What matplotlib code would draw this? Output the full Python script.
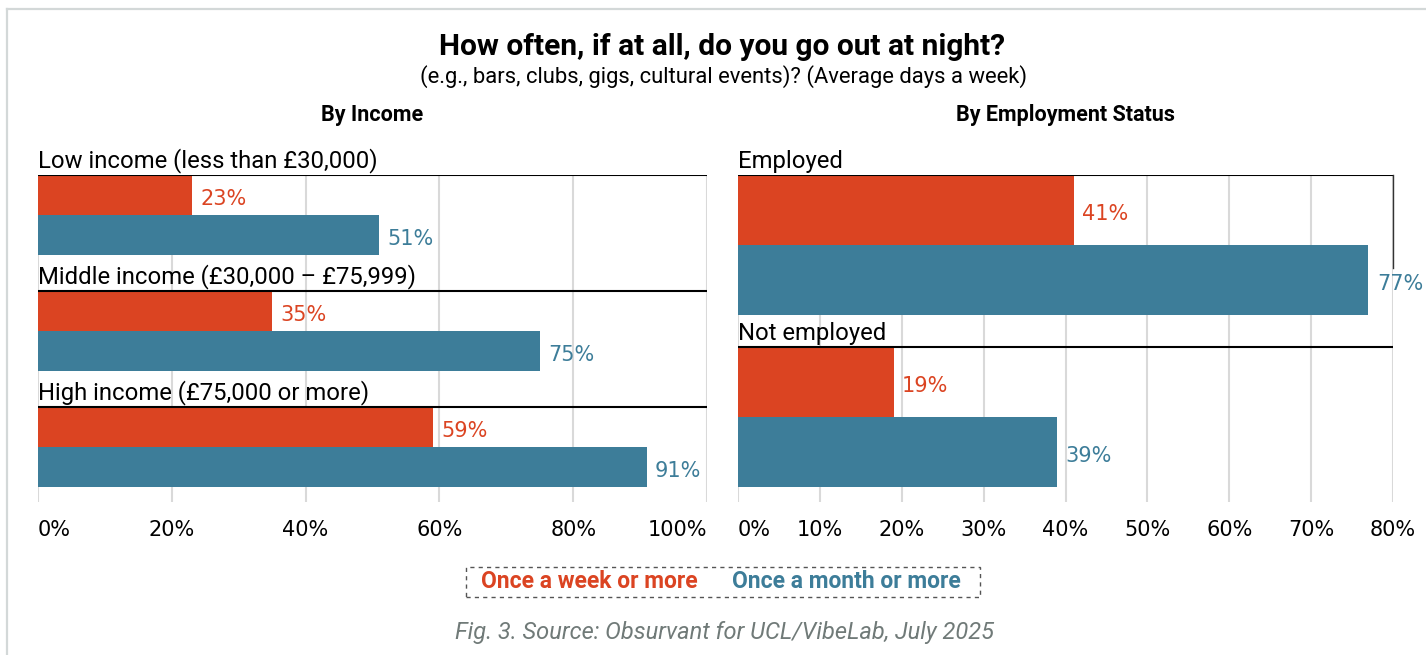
import matplotlib
matplotlib.use('Agg')
import matplotlib.pyplot as plt
from matplotlib.patches import Rectangle
from matplotlib.lines import Line2D

W, H = 1426, 655
ORANGE = '#db4422'
BLUE = '#3d7d99'
GRID = '#d9d9d9'
NUMFONT = 'DejaVu Sans'

plt.rcParams['font.family'] = ['Roboto', 'DejaVu Sans']

title = 'How often, if at all, do you go out at night?'
subtitle = '(e.g., bars, clubs, gigs, cultural events)? (Average days a week)'
source = 'Fig. 3. Source: Obsurvant for UCL/VibeLab, July 2025'

income_groups = ['Low income (less than £30,000)',
                 'Middle income (£30,000 – £75,999)',
                 'High income (£75,000 or more)']
income_week = [23, 35, 59]
income_month = [51, 75, 91]
income_ticks = [0, 20, 40, 60, 80, 100]

emp_groups = ['Employed', 'Not employed']
emp_week = [41, 19]
emp_month = [77, 39]
emp_ticks = [0, 10, 20, 30, 40, 50, 60, 70, 80]

series_names = ['Once a week or more', 'Once a month or more']


def fx(px):
    return px / W


def fy(py):
    return 1 - py / H


fig = plt.figure(figsize=(W / 100, H / 100), dpi=100)

# outer frame (only top and left visible)
fig.add_artist(Line2D([fx(7), fx(7)], [fy(9), 0], color='#d3d8d8', lw=1.6))
fig.add_artist(Line2D([fx(7), 1], [fy(9), fy(9)], color='#d3d8d8', lw=1.6))

fig.text(fx(722), fy(47), title, ha='center', va='center', fontsize=21.5,
         fontweight='bold', color='black')
fig.text(fx(723), fy(77), subtitle, ha='center', va='center', fontsize=15.8,
         color='black')


def panel(x0, x1, heading, groups, week, month, ticks, bar_px, pitch_px, xmax, cap=False):
    top, bottom = 175, 502
    ax = fig.add_axes([fx(x0), fy(bottom), fx(x1) - fx(x0), (bottom - top) / H])
    unit = bar_px
    ax.set_ylim((bottom - top) / unit, 0)
    ax.set_xlim(0, xmax)
    pitch = pitch_px / unit
    for i, g in enumerate(groups):
        y0 = i * pitch
        ax.barh(y0 + 0.5, week[i], height=1, color=ORANGE, zorder=2)
        ax.barh(y0 + 1.5, month[i], height=1, color=BLUE, zorder=2)
        ax.axhline(y0, color='black', lw=1.5, zorder=3)
        ax.annotate(g, (0, y0), xytext=(0, 1.5), textcoords='offset points',
                    ha='left', va='bottom', fontsize=17.2, color='black',
                    annotation_clip=False)
        ax.annotate(f'{week[i]}%', (week[i], y0 + 0.5), xytext=(6, -3),
                    textcoords='offset points', ha='left', va='center',
                    fontsize=15, color=ORANGE, family=NUMFONT,
                    annotation_clip=False)
        ax.annotate(f'{month[i]}%', (month[i], y0 + 1.5), xytext=(6, -3),
                    textcoords='offset points', ha='left', va='center',
                    fontsize=15, color=BLUE, family=NUMFONT,
                    annotation_clip=False)
    if cap:
        ax.axvline(xmax, ymin=1 - 93 / (bottom - top), ymax=1, color='#333333',
                   lw=1, zorder=4, clip_on=False)
    ax.set_xticks(ticks)
    ax.set_xticklabels([f'{t}%' for t in ticks], family=NUMFONT, fontsize=15)
    ax.tick_params(axis='x', length=0, pad=13)
    labels = ax.get_xticklabels()
    labels[0].set_ha('left')
    if ticks[-1] == 100:
        labels[-1].set_ha('right')
    ax.set_yticks([])
    ax.grid(axis='x', color=GRID, lw=1.5, zorder=0)
    for s in ax.spines.values():
        s.set_visible(False)
    fig.text(fx((x0 + x1) / 2), fy(115), heading, ha='center', va='center',
             fontsize=15.5, fontweight='bold')
    return ax


panel(38, 707, 'By Income', income_groups, income_week, income_month,
      income_ticks, 40, 116, 100)
panel(738, 1393, 'By Employment Status', emp_groups, emp_week, emp_month,
      emp_ticks, 70, 172, 80, cap=True)

# legend box
fig.add_artist(Rectangle((fx(466), fy(597)), fx(980) - fx(466), (597 - 567) / H,
                         fill=False, ls=(0, (3, 3)), lw=1, edgecolor='#555555'))
fig.text(fx(589), fy(582), series_names[0], ha='center', va='center',
         fontsize=16.5, fontweight='bold', color=ORANGE)
fig.text(fx(846), fy(582), series_names[1], ha='center', va='center',
         fontsize=16.5, fontweight='bold', color=BLUE)

fig.text(fx(724), fy(632), source, ha='center', va='center', fontsize=17,
         style='italic', color='#707a78')

fig.savefig('out.png', dpi=100)
